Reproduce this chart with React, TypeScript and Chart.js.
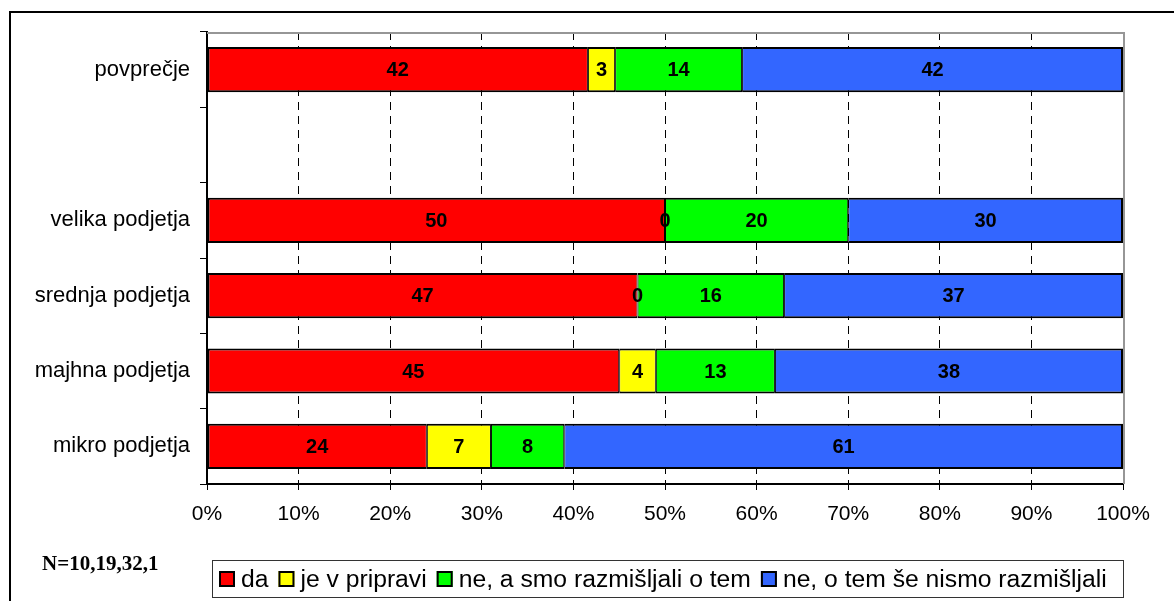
import { useEffect, useRef } from 'react';
import { Chart, registerables } from 'chart.js';

Chart.register(...registerables);

const categories = ['povprečje', '', 'velika podjetja', 'srednja podjetja', 'majhna podjetja', 'mikro podjetja'];
const seriesNames = ['da', 'je v pripravi', 'ne, a smo razmišljali o tem', 'ne, o tem še nismo razmišljali'];
const da = [42, null, 50, 47, 45, 24];
const vPripravi = [3, null, 0, 0, 4, 7];
const neRazmisljali = [14, null, 20, 16, 13, 8];
const neNismo = [42, null, 30, 37, 38, 61];
const seriesColors = ['#FF0000', '#FFFF00', '#00FF00', '#3366FF'];
const xMin = 0;
const xMax = 100;
const xStep = 10;
const sampleNote = 'N=10,19,32,1';

const SANS = '"Liberation Sans", Arial, sans-serif';
const SERIF = '"Liberation Serif", "Times New Roman", serif';

export default function App() {
  const canvasRef = useRef<HTMLCanvasElement>(null);

  useEffect(() => {
    const canvas = canvasRef.current;
    if (!canvas) return;
    const series = [da, vPripravi, neRazmisljali, neNismo];
    const totals = categories.map((_, i) => series.reduce((s, arr) => s + ((arr[i] as number | null) ?? 0), 0));

    const datasets = series.map((arr, k) => ({
      label: seriesNames[k],
      data: arr.map((v, i) => (v == null ? null : ((v as number) / totals[i]) * 100)),
      rawValues: arr,
      backgroundColor: seriesColors[k],
      borderColor: '#000000',
      borderWidth: { top: 2, bottom: 2, left: k === 0 ? 2 : 1, right: k === series.length - 1 ? 2 : 1 },
      borderSkipped: false,
      barPercentage: 0.6,
      categoryPercentage: 1,
    }));

    const valueLabels = {
      id: 'valueLabels',
      afterDatasetsDraw(chart: any) {
        const ctx = chart.ctx;
        ctx.save();
        ctx.font = `bold 20px ${SANS}`;
        ctx.fillStyle = '#000';
        ctx.textAlign = 'center';
        ctx.textBaseline = 'middle';
        chart.data.datasets.forEach((ds: any, di: number) => {
          const meta = chart.getDatasetMeta(di);
          meta.data.forEach((el: any, i: number) => {
            const v = ds.rawValues[i];
            if (v == null) return;
            const p = el.getCenterPoint();
            ctx.fillText(String(v), p.x, p.y + 1);
          });
        });
        ctx.restore();
      },
    };

    const frame = {
      id: 'frame',
      beforeDatasetsDraw(chart: any) {
        const { ctx, chartArea } = chart;
        ctx.save();
        ctx.strokeStyle = '#969696';
        ctx.lineWidth = 2;
        ctx.beginPath();
        ctx.moveTo(chartArea.left, chartArea.top + 1);
        ctx.lineTo(chartArea.right + 2, chartArea.top + 1);
        ctx.moveTo(chartArea.right + 1, chartArea.top);
        ctx.lineTo(chartArea.right + 1, chartArea.bottom);
        ctx.stroke();
        ctx.restore();
      },
      afterDraw(chart: any) {
        const { ctx } = chart;
        ctx.save();
        // outer chart border
        ctx.strokeStyle = '#000';
        ctx.lineWidth = 2;
        ctx.strokeRect(10, 12, 1400, 800);
        // legend box
        ctx.strokeStyle = '#333';
        ctx.lineWidth = 1;
        ctx.strokeRect(212.5, 560.5, 911, 37);
        ctx.font = `24.7px ${SANS}`;
        ctx.textBaseline = 'middle';
        ctx.textAlign = 'left';
        let x = 219;
        const cy = 579;
        chart.data.datasets.forEach((ds: any) => {
          ctx.fillStyle = ds.backgroundColor;
          ctx.fillRect(x, cy - 8, 16, 16);
          ctx.strokeStyle = '#000';
          ctx.lineWidth = 2;
          ctx.strokeRect(x + 1, cy - 7, 14, 14);
          x += 22;
          ctx.fillStyle = '#000';
          ctx.fillText(ds.label, x, cy + 1);
          x += ctx.measureText(ds.label).width + 10;
        });
        // sample note
        ctx.font = `bold 21px ${SERIF}`;
        ctx.textBaseline = 'alphabetic';
        ctx.fillStyle = '#000';
        ctx.fillText(sampleNote, 42, 570);
        ctx.restore();
      },
    };

    const chart = new Chart(canvas, {
      type: 'bar',
      data: { labels: categories, datasets: datasets as any },
      options: {
        indexAxis: 'y',
        animation: false,
        responsive: false,
        maintainAspectRatio: false,
        layout: { padding: { top: 32, right: 51, left: 0, bottom: 0 } },
        plugins: {
          legend: { display: false },
          tooltip: { enabled: false },
          title: { display: false },
        },
        scales: {
          x: {
            stacked: true,
            min: xMin,
            max: xMax,
            afterFit: (s: any) => { s.height = 117; },
            ticks: {
              stepSize: xStep,
              callback: (v: any) => `${v}%`,
              color: '#000',
              font: { family: SANS, size: 21 },
              padding: 12,
              maxRotation: 0,
            },
            grid: {
              color: '#000',
              lineWidth: 1,
              drawTicks: true,
              tickLength: 6,
              tickColor: '#000',
              tickBorderDash: [],
              borderDash: [8, 6],
            } as any,
            border: { display: true, color: '#000', width: 2, dash: [8, 6] },
          },
          y: {
            stacked: true,
            afterFit: (s: any) => { s.width = 207; },
            ticks: {
              color: '#000',
              font: { family: SANS, size: 22 },
              padding: 10,
              autoSkip: false,
            },
            grid: {
              display: true,
              drawOnChartArea: false,
              drawTicks: true,
              tickLength: 7,
              color: '#000',
              tickColor: '#000',
              lineWidth: 1,
            },
            border: { display: true, color: '#000', width: 2 },
          },
        },
      },
      plugins: [frame, valueLabels],
    });

    return () => chart.destroy();
  }, []);

  return (
    <div style={{ position: 'absolute', left: 0, top: 0, width: 1174, height: 601, background: '#fff' }}>
      <canvas ref={canvasRef} width={1174} height={601} style={{ display: 'block', width: 1174, height: 601 }} />
    </div>
  );
}
